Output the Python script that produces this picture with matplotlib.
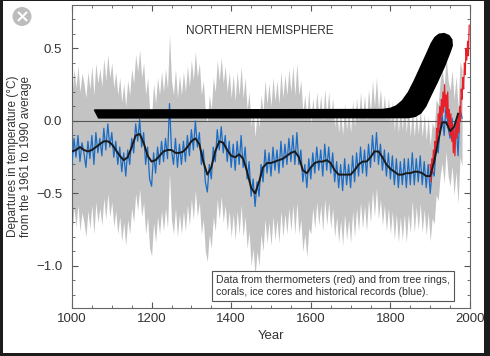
import matplotlib
matplotlib.use('Agg')
import matplotlib.pyplot as plt
from matplotlib.patches import Rectangle, Circle
from matplotlib.ticker import MultipleLocator
import numpy as np

plt.rcParams['font.family'] = ['Liberation Sans', 'DejaVu Sans']

# proxy reconstruction (blue), 5-year steps 1000-1980
blue_years = np.arange(1000, 1981, 5)
blue_vals = [
    -0.30, -0.12, -0.25, -0.10, -0.28, -0.15, -0.22, -0.32, -0.14, -0.26,
    -0.10, -0.30, -0.08, -0.22, -0.12, -0.24, -0.05, -0.20, -0.02, -0.18,
    -0.08, -0.25, -0.14, -0.30, -0.18, -0.35, -0.22, -0.38, -0.20, -0.30,
    -0.12, -0.22, -0.02, -0.14, 0.01, -0.18, -0.08, -0.30, -0.18, -0.40,
    -0.45, -0.22, -0.36, -0.18, -0.30, -0.14, -0.28, -0.12, -0.26, 0.12,
    -0.20, -0.30, -0.12, -0.32, -0.16, -0.30, -0.14, -0.28, -0.10, -0.24,
    -0.06, -0.20, 0.00, -0.18, -0.08, -0.30, -0.20, -0.42, -0.49, -0.30,
    -0.40, -0.18, -0.28, -0.06, -0.20, -0.04, -0.22, -0.10, -0.28, -0.14,
    -0.32, -0.16, -0.34, -0.14, -0.30, -0.10, -0.32, -0.18, -0.40, -0.28,
    -0.52, -0.40, -0.59, -0.42, -0.52, -0.30, -0.42, -0.20, -0.36, -0.22,
    -0.38, -0.18, -0.34, -0.20, -0.36, -0.14, -0.32, -0.16, -0.30, -0.12,
    -0.28, -0.10, -0.30, -0.08, -0.30, -0.20, -0.42, -0.30, -0.46, -0.26,
    -0.40, -0.22, -0.36, -0.18, -0.34, -0.20, -0.38, -0.16, -0.34, -0.18,
    -0.36, -0.22, -0.42, -0.28, -0.46, -0.30, -0.48, -0.26, -0.44, -0.30,
    -0.46, -0.24, -0.42, -0.22, -0.38, -0.18, -0.36, -0.20, -0.38, -0.16,
    -0.32, -0.10, -0.28, -0.08, -0.30, -0.16, -0.34, -0.20, -0.38, -0.22,
    -0.40, -0.24, -0.44, -0.26, -0.46, -0.28, -0.44, -0.26, -0.46, -0.26,
    -0.44, -0.22, -0.44, -0.26, -0.42, -0.24, -0.44, -0.28, -0.46, -0.30,
    -0.50, -0.34, -0.38, -0.18, -0.22, -0.05, 0.04, -0.10, 0.12, -0.05,
    -0.12, 0.02, -0.18, -0.02, -0.24, 0.08, 0.02,
]

# uncertainty half-width of the grey band, by period
sigma_start = [1000, 1600, 1850]
sigma_half = [0.48, 0.38, 0.33]

# 40-year smoothed curve (black), 10-year steps
smooth_years = np.arange(1000, 1971, 10)
smooth_vals = [
    -0.21, -0.20, -0.18, -0.20, -0.21, -0.20, -0.18, -0.16, -0.14, -0.14,
    -0.16, -0.20, -0.24, -0.27, -0.25, -0.18, -0.10, -0.09, -0.15, -0.24,
    -0.28, -0.27, -0.24, -0.21, -0.20, -0.20, -0.22, -0.22, -0.21, -0.18,
    -0.14, -0.12, -0.16, -0.28, -0.37, -0.32, -0.21, -0.14, -0.15, -0.20,
    -0.24, -0.25, -0.23, -0.26, -0.35, -0.46, -0.50, -0.42, -0.32, -0.29,
    -0.29, -0.28, -0.27, -0.26, -0.24, -0.22, -0.21, -0.25, -0.34, -0.36,
    -0.32, -0.29, -0.28, -0.28, -0.27, -0.29, -0.34, -0.37, -0.37, -0.37,
    -0.37, -0.34, -0.30, -0.28, -0.28, -0.25, -0.21, -0.21, -0.25, -0.30,
    -0.33, -0.35, -0.37, -0.37, -0.36, -0.36, -0.35, -0.35, -0.36, -0.38,
    -0.38, -0.28, -0.14, -0.01, -0.01, -0.07, -0.04, 0.05,
]

# thermometer record (red), 2-year steps
red_years = np.arange(1900, 1999, 2)
red_vals = [
    -0.30, -0.42, -0.26, -0.36, -0.20, -0.30, -0.14, -0.22, -0.05, -0.16,
    0.05, -0.08, 0.10, -0.02, 0.15, 0.04, 0.20, 0.06, 0.25, 0.10,
    0.18, 0.02, 0.20, -0.04, 0.08, -0.10, 0.05, -0.14, -0.02, -0.22,
    -0.05, -0.24, -0.10, 0.00, -0.12, 0.05, -0.08, 0.10, 0.00, 0.22,
    0.15, 0.30, 0.22, 0.40, 0.32, 0.50, 0.42, 0.55, 0.45, 0.66,
]

# hockey-stick outline (year, value)
stick_years = [1057, 1780, 1800, 1815, 1830, 1845, 1860, 1875, 1890, 1903,
               1912, 1922, 1935, 1947, 1954, 1955, 1950, 1936, 1916, 1900,
               1888, 1876, 1862, 1845, 1067]
stick_vals = [0.075, 0.078, 0.086, 0.103, 0.138, 0.195, 0.275, 0.365, 0.455,
              0.535, 0.575, 0.597, 0.602, 0.588, 0.56, 0.52, 0.48, 0.38,
              0.26, 0.17, 0.10, 0.055, 0.032, 0.024, 0.022]

blue_vals = np.array(blue_vals)
idx = np.searchsorted(sigma_start, blue_years, side='right') - 1
half = np.array(sigma_half)[idx]

fig = plt.figure(figsize=(4.9, 3.56), dpi=100)
fig.patch.set_facecolor('#1c1c1c')
fig.patches.append(Rectangle((3 / 490, 3 / 356), 481 / 490, 352 / 356,
                             transform=fig.transFigure, facecolor='white',
                             edgecolor='none', zorder=-10))
fig.patches.append(Circle((0.22, 3.56 - 0.165), 0.095,
                          transform=fig.dpi_scale_trans, facecolor='#bdbdbd',
                          edgecolor='none', zorder=-5))
fig.text(22 / 490, 1 - 17 / 356, '\u00d7', color='white', fontsize=13,
         ha='center', va='center', family='DejaVu Sans', fontweight='bold')

ax = fig.add_axes([72 / 490, 48 / 356, 398 / 490, 303 / 356])
ax.set_facecolor('white')

ax.fill_between(blue_years, blue_vals - half, blue_vals + half,
                color='#c3c3c3', linewidth=0, zorder=1)
ax.axhline(0, color='#555555', linewidth=0.8, zorder=2)
ax.plot(blue_years, blue_vals, color='#1b6cc4', linewidth=0.9, zorder=3)
ax.plot(red_years, red_vals, color='#e8202a', linewidth=0.9, zorder=3)
ax.plot(smooth_years, smooth_vals, color='#1a1a1a', linewidth=1.4, zorder=4)
ax.fill(stick_years, stick_vals, facecolor='black', edgecolor='black',
        linewidth=1.2, joinstyle='round', zorder=5)

ax.set_xlim(1000, 2000)
ax.set_ylim(-1.29, 0.8)
ax.xaxis.set_major_locator(MultipleLocator(200))
ax.xaxis.set_minor_locator(MultipleLocator(50))
ax.yaxis.set_major_locator(MultipleLocator(0.5))
ax.yaxis.set_minor_locator(MultipleLocator(0.1))
ax.set_yticks([-1.0, -0.5, 0.0, 0.5])
ax.set_yticklabels(['\u22121.0', '\u22120.5', '0.0', '0.5'])
ax.tick_params(which='both', direction='in', top=True, right=True,
               color='#555555', labelcolor='#333333', labelsize=9.5)
ax.tick_params(which='major', length=4)
ax.tick_params(which='minor', length=2.5)
ax.tick_params(axis='y', pad=7)
for s in ax.spines.values():
    s.set_color('#666666')
    s.set_linewidth(0.8)

ax.set_xlabel('Year', fontsize=9.5, color='#333333', labelpad=4)
ax.set_ylabel('Departures in temperature (\u00b0C)\nfrom the 1961 to 1990 average',
              fontsize=8.5, color='#333333', labelpad=3, linespacing=1.05)

ax.text(0.472, 0.914, 'NORTHERN HEMISPHERE', transform=ax.transAxes,
        ha='center', va='center', fontsize=8.5, color='#333333')
ax.text(0.362, 0.073,
        'Data from thermometers (red) and from tree rings,\n'
        'corals, ice cores and historical records (blue).',
        transform=ax.transAxes, ha='left', va='center', fontsize=7.6,
        color='#333333', linespacing=1.25,
        bbox=dict(boxstyle='square,pad=0.35', facecolor='white',
                  edgecolor='#555555', linewidth=0.8))

fig.savefig('out.png', dpi=100, facecolor=fig.get_facecolor())
